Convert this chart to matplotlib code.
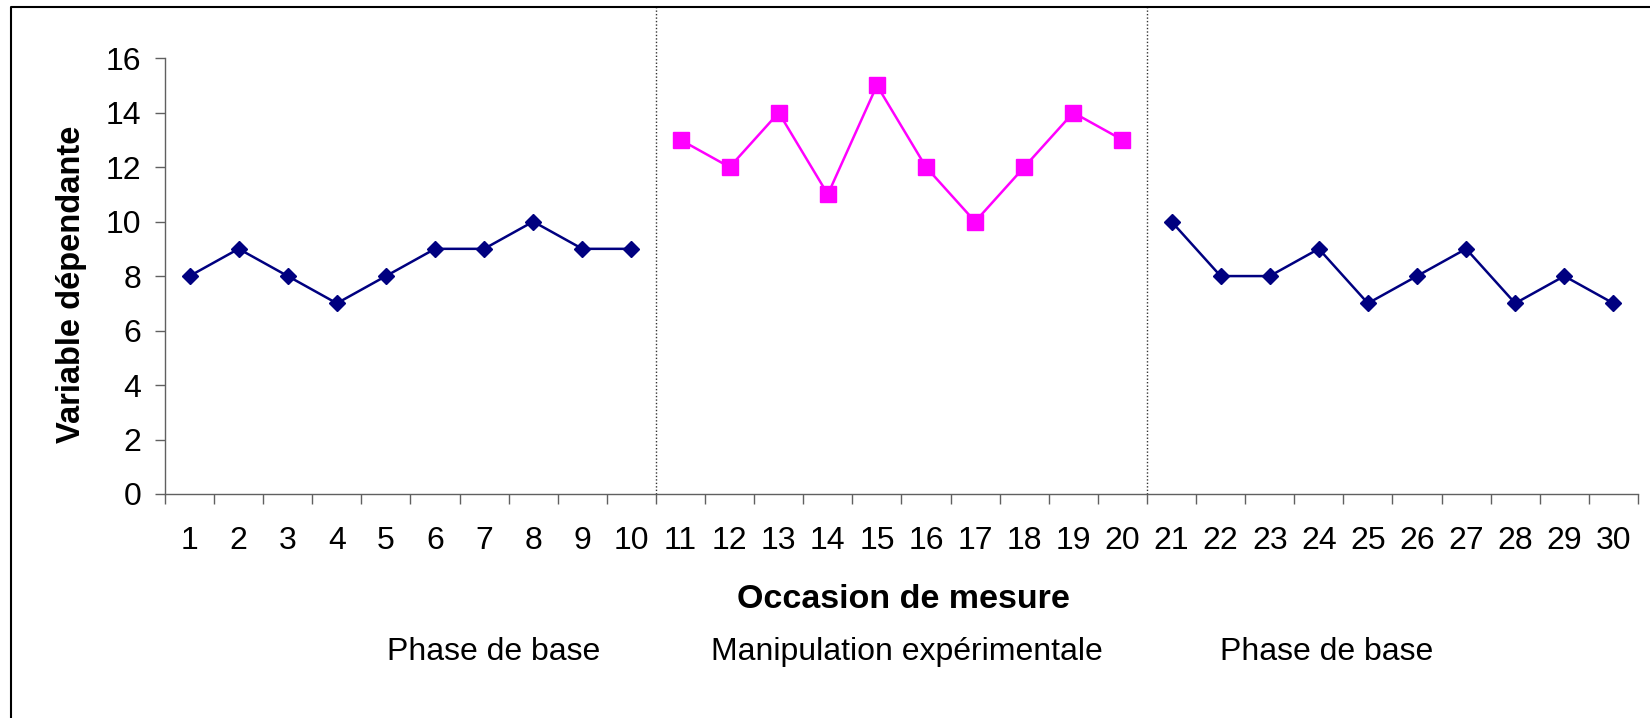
import matplotlib.pyplot as plt
from matplotlib.lines import Line2D
import numpy as np

plt.rcParams['font.family'] = ['Liberation Sans', 'DejaVu Sans']

# occasions de mesure, par phase
occ_base1 = list(range(1, 11))
occ_manip = list(range(11, 21))
occ_base2 = list(range(21, 31))
val_base1 = [8, 9, 8, 7, 8, 9, 9, 10, 9, 9]
val_manip = [13, 12, 14, 11, 15, 12, 10, 12, 14, 13]
val_base2 = [10, 8, 8, 9, 7, 8, 9, 7, 8, 7]
phase_limits = [10.5, 20.5]
phase_labels = ['Phase de base', 'Manipulation expérimentale', 'Phase de base']
phase_centers = [7.2, 15.6, 24.15]
y_ticks = [0, 2, 4, 6, 8, 10, 12, 14, 16]

navy = '#000080'
magenta = '#FF00FF'
axis_col = '#606060'


def main():
    fig = plt.figure(figsize=(16.5, 7.18), dpi=100)
    ax = fig.add_axes([0.1, 0.312, 0.8927, 0.607])

    ax.plot(occ_base1, val_base1, color=navy, lw=1.8, marker='D', ms=8.5, clip_on=False)
    ax.plot(occ_manip, val_manip, color=magenta, lw=1.8, marker='s', ms=11, clip_on=False)
    ax.plot(occ_base2, val_base2, color=navy, lw=1.8, marker='D', ms=8.5, clip_on=False)

    ax.set_xlim(0.5, 30.5)
    ax.set_ylim(0, 16)
    ax.set_yticks(y_ticks)

    # ticks on category boundaries, labels centred under each occasion
    ax.set_xticks(np.arange(0.5, 31, 1))
    ax.set_xticklabels([])
    ax.set_xticks(occ_base1 + occ_manip + occ_base2, minor=True)
    ax.set_xticklabels([str(v) for v in occ_base1 + occ_manip + occ_base2], minor=True)
    ax.tick_params(axis='x', which='major', length=7, width=1, color=axis_col)
    ax.tick_params(axis='x', which='minor', length=0, pad=23, labelsize=23)
    ax.tick_params(axis='y', length=7, width=1, color=axis_col, labelsize=23, pad=10)

    for side in ['top', 'right']:
        ax.spines[side].set_visible(False)
    for side in ['left', 'bottom']:
        ax.spines[side].set_color(axis_col)
        ax.spines[side].set_linewidth(1)

    ax.set_ylabel('Variable dépendante', fontsize=23.5, fontweight='bold', va='center')
    ax.yaxis.set_label_coords(-0.0635, 0.482)

    # phase separators run from the x axis up to the frame
    for xl in phase_limits:
        ax.plot([xl, xl], [0, 1.119], transform=ax.get_xaxis_transform(),
                color='#333333', lw=1, ls=(0, (1, 1.5)), clip_on=False)

    fig.text(903 / 1650, 1 - 600 / 718, 'Occasion de mesure', ha='center', va='center',
             fontsize=24.5, fontweight='bold')
    for xc, lab in zip(phase_centers, phase_labels):
        x_fig = ax.transData.transform((xc, 0))[0] / fig.bbox.width
        fig.text(x_fig, 1 - 652 / 718, lab, ha='center', va='center', fontsize=23)

    # chart frame (left and top edges)
    fig.add_artist(Line2D([10.5 / 1650, 10.5 / 1650, 1.0], [0, 1 - 6.5 / 718, 1 - 6.5 / 718],
                          transform=fig.transFigure, color='black', lw=1.5))

    fig.savefig('out.png', dpi=100, facecolor='white')


if __name__ == '__main__':
    main()
